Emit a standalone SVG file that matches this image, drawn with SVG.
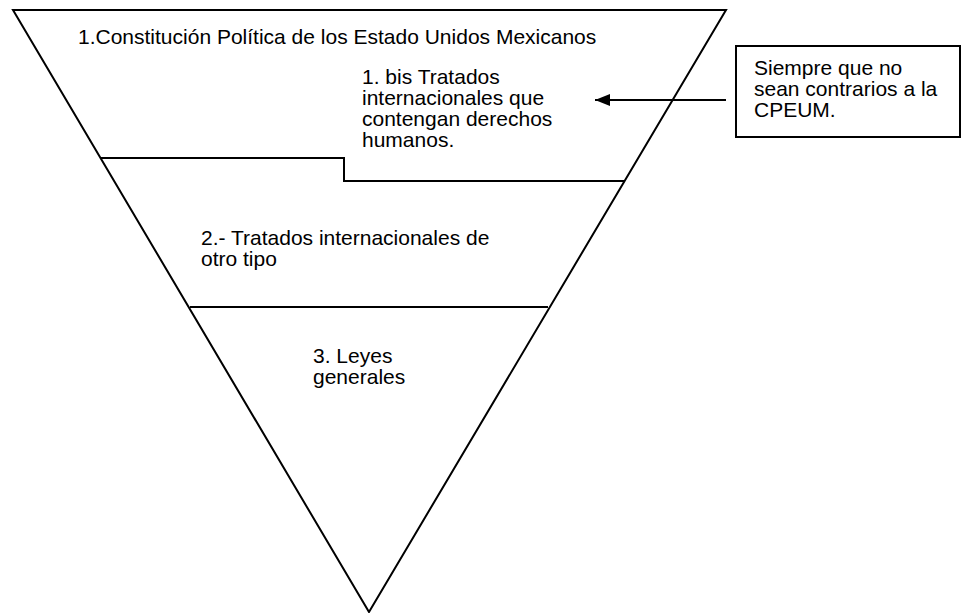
<svg xmlns="http://www.w3.org/2000/svg" width="961" height="613" viewBox="0 0 961 613">
<defs>
<marker id="ah" markerWidth="16" markerHeight="12" refX="15" refY="6" orient="auto" markerUnits="userSpaceOnUse">
<path d="M0,0 L15,6 L0,12 Z" fill="#000"/>
</marker>
<style>
.ln{fill:none;stroke:#000;stroke-width:2}
.t{font-family:"Liberation Sans",Arial,sans-serif;font-size:21px;fill:#000}
</style>
</defs>
<rect width="961" height="613" fill="#fff"/>
<g id="pyramid">
<path class="ln" d="M13,10 L726,10 L369,612 Z"/>
<path class="ln" d="M100,158 L344,158 L344,181 L624,181"/>
<path class="ln" d="M190,307 L548,307"/>
</g>
<g id="level1">
<text class="t" x="78" y="44">1.Constitución Política de los Estado Unidos Mexicanos</text>
</g>
<g id="level1bis">
<text class="t" x="362" y="84">1. bis Tratados</text>
<text class="t" x="362" y="105">internacionales que</text>
<text class="t" x="362" y="126">contengan derechos</text>
<text class="t" x="362" y="147">humanos.</text>
</g>
<g id="level2">
<text class="t" x="201" y="245">2.- Tratados internacionales de</text>
<text class="t" x="201" y="266">otro tipo</text>
</g>
<g id="level3">
<text class="t" x="313" y="363">3. Leyes</text>
<text class="t" x="313" y="384">generales</text>
</g>
<g id="note">
<rect class="ln" x="736" y="46" width="224" height="91"/>
<text class="t" x="754" y="75">Siempre que no</text>
<text class="t" x="754" y="96">sean contrarios a la</text>
<text class="t" x="754" y="117">CPEUM.</text>
</g>
<g id="connectors">
<line class="ln" x1="726" y1="100" x2="595" y2="100" marker-end="url(#ah)"/>
</g>
</svg>
